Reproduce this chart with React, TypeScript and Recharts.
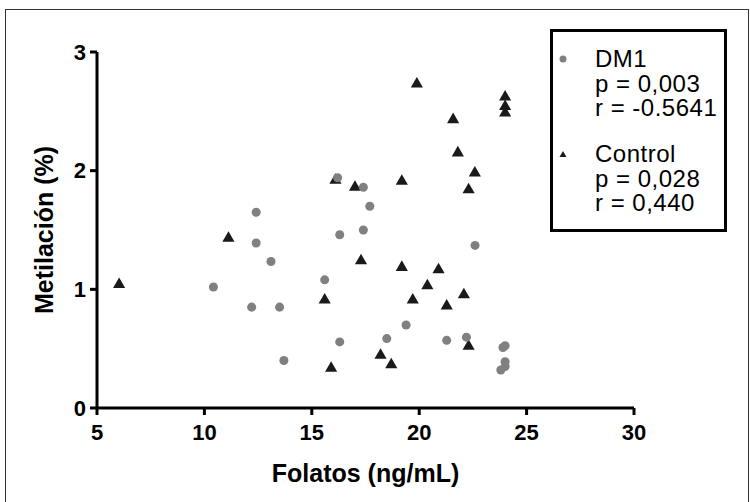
import { Legend, Scatter, ScatterChart, XAxis, YAxis, ZAxis } from "recharts";

// values
const dm1Folatos = [
  10.42, 12.2, 13.5, 12.41, 12.41, 13.1, 13.7, 15.6, 16.2, 16.3, 16.3, 17.4,
  17.7, 17.4, 18.49, 19.39, 21.28, 22.2, 22.6, 23.9, 24.0, 24.0, 24.0, 23.8,
];
const dm1Metilacion = [
  1.02, 0.85, 0.85, 1.65, 1.39, 1.235, 0.4, 1.08, 1.94, 1.46, 0.557, 1.86,
  1.7, 1.5, 0.585, 0.7, 0.57, 0.597, 1.37, 0.51, 0.525, 0.39, 0.35, 0.32,
];
const controlFolatos = [
  6.03, 11.12, 15.6, 15.9, 16.1, 17.01, 17.29, 18.2, 18.7, 19.19, 19.19, 19.7,
  19.89, 20.38, 20.9, 21.28, 21.58, 21.8, 22.08, 22.3, 22.3, 22.59, 24.0, 24.0,
  24.0,
];
const controlMetilacion = [
  1.04, 1.43, 0.91, 0.335, 1.92, 1.86, 1.24, 0.445, 0.365, 1.91, 1.185, 0.91,
  2.73, 1.03, 1.165, 0.86, 2.43, 2.15, 0.955, 1.84, 0.52, 1.98, 2.62, 2.54,
  2.485,
];
const xTicks = [5, 10, 15, 20, 25, 30];
const yTicks = [0, 1, 2, 3];
const legendItems = [
  { name: "DM1", stats: ["p = 0,003", "r = -0.5641"] },
  { name: "Control", stats: ["p = 0,028", "r = 0,440"] },
];

const FONT = '"Liberation Sans", Arial, sans-serif';
const DM1_COLOR = "#808080";
const CONTROL_COLOR = "#1a1a1a";

const dm1 = dm1Folatos.map((x, i) => ({ x, y: dm1Metilacion[i] }));
const control = controlFolatos.map((x, i) => ({ x, y: controlMetilacion[i] }));

const axisLine = { stroke: "#000", strokeWidth: 3 };
const tickStyle = { fill: "#000", fontSize: 22, fontWeight: "bold", fontFamily: FONT };

function StatsLegend() {
  return (
    <svg width={177} height={203} style={{ display: "block" }}>
      <rect x={1.5} y={1.5} width={174} height={200} fill="#fff" stroke="#000" strokeWidth={3} />
      {legendItems.map((item, g) => {
        const top = g * 95;
        return (
          <g key={item.name} fontFamily={FONT} fontSize={24} letterSpacing={0.5} fill="#000">
            {g === 0 ? (
              <circle cx={13} cy={top + 30} r={3.5} fill={DM1_COLOR} />
            ) : (
              <path d={`M13,${top + 27} L16.5,${top + 33} L9.5,${top + 33} Z`} fill={CONTROL_COLOR} />
            )}
            <text x={45} y={top + 38}>{item.name}</text>
            {item.stats.map((s, i) => (
              <text key={s} x={45} y={top + 62.5 + i * 24.5}>{s}</text>
            ))}
          </g>
        );
      })}
    </svg>
  );
}

export default function App() {
  return (
    <div
      style={{
        position: "absolute",
        left: 0,
        top: 0,
        width: 750,
        height: 502,
        overflow: "hidden",
        background: "#fff",
      }}
    >
      <div
        style={{
          position: "absolute",
          left: 5,
          top: 9,
          width: 742,
          height: 520,
          border: "1.5px solid #333",
        }}
      />
      <ScatterChart
        width={750}
        height={502}
        margin={{ top: 52, right: 116, bottom: 24, left: 37 }}
        style={{ position: "absolute", left: 0, top: 0 }}
      >
        <XAxis
          type="number"
          dataKey="x"
          domain={[5, 30]}
          ticks={xTicks}
          interval={0}
          height={70}
          axisLine={axisLine}
          tickLine={axisLine}
          tickSize={7}
          tickMargin={9}
          tick={tickStyle}
          label={{
            value: "Folatos (ng/mL)",
            position: "insideBottom",
            offset: -4,
            fill: "#000",
            fontSize: 25,
            fontWeight: "bold",
            fontFamily: FONT,
          }}
        />
        <YAxis
          type="number"
          dataKey="y"
          domain={[0, 3]}
          ticks={yTicks}
          interval={0}
          width={60}
          axisLine={axisLine}
          tickLine={axisLine}
          tickSize={7}
          tickMargin={4}
          tick={tickStyle}
          label={{
            value: "Metilación (%)",
            angle: -90,
            position: "insideLeft",
            offset: 7,
            fill: "#000",
            fontSize: 25,
            fontWeight: "bold",
            fontFamily: FONT,
            style: { textAnchor: "middle" },
          }}
        />
        <ZAxis zAxisId="dm1" range={[64, 64]} />
        <ZAxis zAxisId="control" range={[48, 48]} />
        <Legend
          layout="vertical"
          align="center"
          verticalAlign="middle"
          content={() => <StatsLegend />}
          wrapperStyle={{ position: "absolute", left: 550, top: 29, width: 177, height: 203 }}
        />
        <Scatter
          name="Control"
          data={control}
          zAxisId="control"
          shape="triangle"
          fill={CONTROL_COLOR}
          isAnimationActive={false}
        />
        <Scatter
          name="DM1"
          data={dm1}
          zAxisId="dm1"
          shape="circle"
          fill={DM1_COLOR}
          isAnimationActive={false}
        />
      </ScatterChart>
    </div>
  );
}
